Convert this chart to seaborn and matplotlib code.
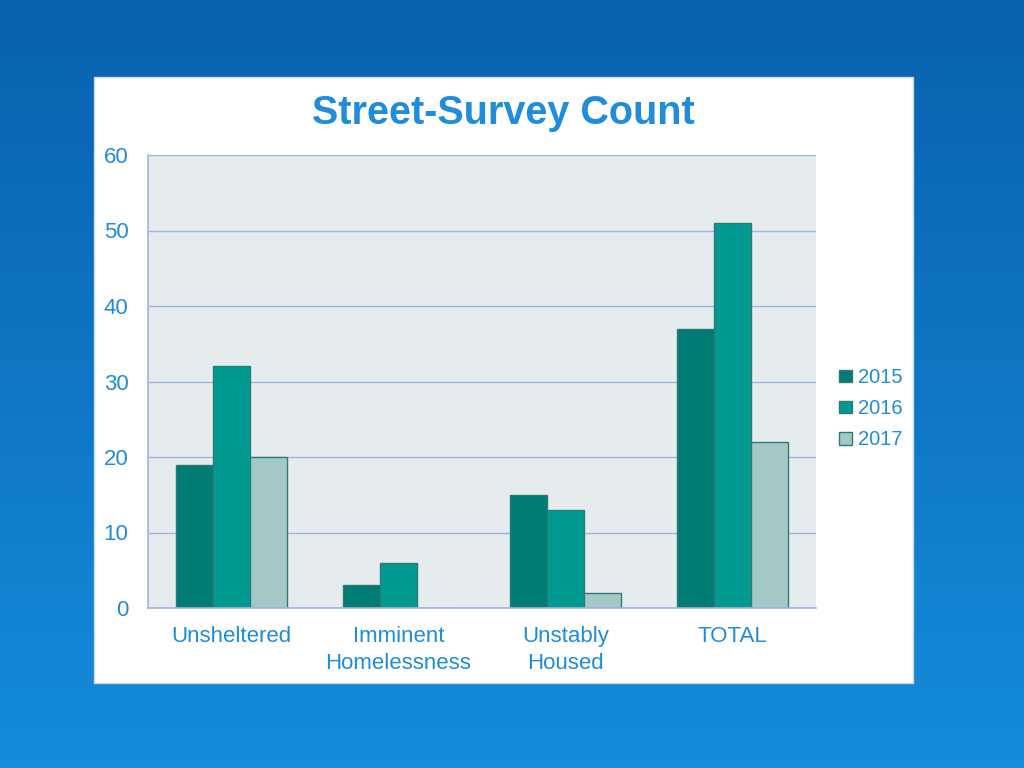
import numpy as np
import pandas as pd
import matplotlib
matplotlib.use("Agg")
import matplotlib.pyplot as plt
from matplotlib.patches import Rectangle
import seaborn as sns

categories = ["Unsheltered", "Imminent\nHomelessness", "Unstably\nHoused", "TOTAL"]
years = ["2015", "2016", "2017"]
vals_2015 = [19, 3, 15, 37]
vals_2016 = [32, 6, 13, 51]
vals_2017 = [20, 0, 2, 22]
y_ticks = [0, 10, 20, 30, 40, 50, 60]

df = pd.DataFrame({
    "category": categories * 3,
    "year": [y for y in years for _ in categories],
    "count": vals_2015 + vals_2016 + vals_2017,
})

TEXT_BLUE = "#1F8CDC"
GRID_BLUE = "#9DB5E2"
palette = {"2015": "#007C74", "2016": "#009A93", "2017": "#A3C8C6"}

sns.set_style("white")
plt.rcParams["font.family"] = ["Liberation Sans", "DejaVu Sans"]

fig = plt.figure(figsize=(10.24, 7.68), dpi=100)

# blue gradient background
bg = fig.add_axes([0, 0, 1, 1])
grad = np.linspace(0, 1, 256).reshape(-1, 1)
cmap = matplotlib.colors.LinearSegmentedColormap.from_list("bg", ["#0862AE", "#158CDC"])
bg.imshow(grad, aspect="auto", cmap=cmap, extent=[0, 1, 0, 1], origin="upper")
bg.add_patch(Rectangle((94 / 1024, 1 - 683 / 768), (913 - 94) / 1024, (683 - 77) / 768,
                       facecolor="white", edgecolor="#C8D8EE", lw=1))
bg.set_xlim(0, 1)
bg.set_ylim(0, 1)
bg.axis("off")

ax = fig.add_axes([148 / 1024, 1 - 608 / 768, (816 - 148) / 1024, (608 - 155) / 768])
ax.set_facecolor("#E6ECEE")
sns.barplot(data=df, x="category", y="count", hue="year", palette=palette,
            saturation=1, width=0.67, edgecolor="#2E7B76", linewidth=1, ax=ax)

ax.set_ylim(0, 60)
ax.set_yticks(y_ticks)
ax.set_xlim(-0.5, 3.5)
ax.grid(axis="y", color=GRID_BLUE, linewidth=1)
ax.set_axisbelow(True)
for s in ["top", "right"]:
    ax.spines[s].set_visible(False)
for s in ["left", "bottom"]:
    ax.spines[s].set_color(GRID_BLUE)
    ax.spines[s].set_linewidth(1.2)
ax.tick_params(axis="both", length=0, colors=TEXT_BLUE, labelsize=16)
ax.tick_params(axis="y", pad=14)
ax.tick_params(axis="x", pad=13)
for lbl in ax.get_xticklabels() + ax.get_yticklabels():
    lbl.set_color(TEXT_BLUE)
for lbl in ax.get_xticklabels():
    lbl.set_linespacing(1.35)
ax.set_xlabel("")
ax.set_ylabel("")

leg = ax.legend(loc="center left", bbox_to_anchor=(1.008, 0.44), frameon=False,
                fontsize=14.5, handlelength=0.6, handleheight=0.6, handletextpad=0.3,
                labelspacing=0.6)
for t in leg.get_texts():
    t.set_color(TEXT_BLUE)

fig.text(503 / 1024, 1 - 113 / 768, "Street-Survey Count", ha="center", va="center",
         fontsize=28.5, fontweight="bold", color=TEXT_BLUE)

fig.savefig("out.png", dpi=100)
